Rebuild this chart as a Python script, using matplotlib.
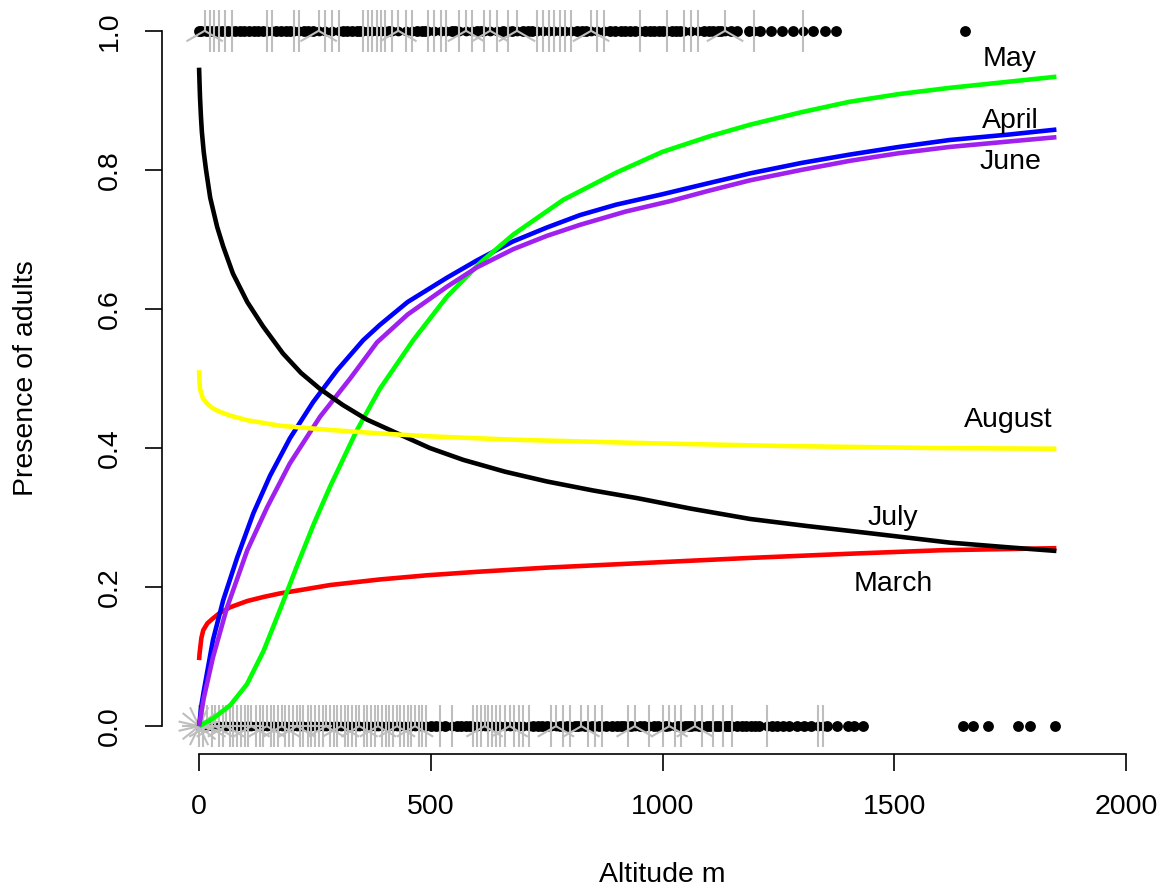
"""
Presence of adults vs altitude, fitted curves per month (R sunflowerplot style)
"""

import numpy as np
import matplotlib
matplotlib.use("Agg")
import matplotlib.pyplot as plt
from matplotlib.collections import LineCollection

plt.rcParams['font.family'] = ['Liberation Sans', 'DejaVu Sans']

# fitted curves: altitude (m) -> predicted presence
march_alt = [0, 1, 2, 5, 9, 18, 30, 45, 67, 104, 140, 175, 230, 283, 390, 492, 600, 750,
             1000, 1189, 1404, 1600, 1850]
march_p = [0.095, 0.104, 0.110, 0.127, 0.138, 0.148, 0.155, 0.163, 0.171, 0.180, 0.186, 0.191,
           0.197, 0.203, 0.211, 0.217, 0.222, 0.228, 0.236, 0.242, 0.248, 0.253, 0.256]

april_alt = [0, 5, 10, 17, 30, 52, 82, 117, 153, 196, 246, 298, 354, 390, 450, 535, 600, 677,
             750, 822, 900, 1000, 1100, 1189, 1300, 1404, 1510, 1620, 1750, 1850]
april_p = [0.0, 0.030, 0.050, 0.076, 0.124, 0.181, 0.242, 0.306, 0.360, 0.414, 0.466, 0.512,
           0.555, 0.577, 0.610, 0.645, 0.670, 0.697, 0.717, 0.735, 0.750, 0.765, 0.781, 0.795,
           0.810, 0.822, 0.833, 0.843, 0.851, 0.858]

may_alt = [0, 30, 67, 103, 139, 175, 211, 247, 283, 340, 390, 462, 534, 606, 678, 786, 900,
           1000, 1100, 1189, 1300, 1404, 1510, 1620, 1750, 1850]
may_p = [0.0, 0.011, 0.030, 0.060, 0.108, 0.168, 0.230, 0.290, 0.345, 0.425, 0.485, 0.555,
         0.617, 0.666, 0.707, 0.757, 0.796, 0.826, 0.848, 0.865, 0.883, 0.898, 0.909, 0.918,
         0.927, 0.934]

june_alt = [0, 10, 30, 60, 104, 147, 196, 261, 326, 384, 450, 535, 600, 678, 750, 822, 920,
            1016, 1100, 1189, 1300, 1404, 1510, 1620, 1750, 1850]
june_p = [0.0, 0.040, 0.099, 0.170, 0.253, 0.315, 0.378, 0.445, 0.500, 0.552, 0.592, 0.632,
          0.660, 0.686, 0.705, 0.721, 0.740, 0.755, 0.770, 0.785, 0.800, 0.813, 0.824, 0.833,
          0.841, 0.847]

july_alt = [0, 1, 2, 4, 6, 10, 15, 24, 39, 52, 73, 104, 138, 181, 220, 261, 310, 362, 448,
            498, 570, 660, 750, 850, 945, 1060, 1189, 1310, 1441, 1620, 1750, 1850]
july_p = [0.947, 0.925, 0.905, 0.877, 0.855, 0.826, 0.800, 0.760, 0.718, 0.690, 0.651, 0.610,
          0.575, 0.536, 0.508, 0.485, 0.462, 0.441, 0.415, 0.400, 0.383, 0.366, 0.352, 0.339,
          0.328, 0.313, 0.298, 0.288, 0.278, 0.264, 0.257, 0.252]

august_alt = [0, 1, 2, 8, 17, 30, 45, 70, 104, 175, 283, 390, 492, 677, 967, 1253, 1584, 1850]
august_p = [0.512, 0.495, 0.485, 0.472, 0.464, 0.457, 0.452, 0.446, 0.440, 0.432, 0.426,
            0.421, 0.417, 0.412, 0.407, 0.403, 0.400, 0.399]

# observed presences (y = 1): single sites and repeated sites with counts
pres_single = [0, 5, 18, 28, 38, 50, 63, 78, 88, 98, 108, 118, 128, 138, 167, 177, 187, 196,
               226, 236, 246, 310, 320, 330, 340, 347, 410, 470, 480, 487, 545, 553, 600, 608,
               655, 676, 698, 710, 718, 815, 826, 836, 886, 898, 910, 920, 930, 940, 962, 972,
               982, 992, 1000, 1021, 1030, 1038, 1090, 1100, 1110, 1120, 1127, 1148, 1160,
               1187, 1211, 1235, 1258, 1282, 1325, 1350, 1374, 1653]
pres_multi = [12, 24, 33, 43, 57, 70, 147, 157, 205, 216, 258, 272, 287, 301, 354, 364, 374,
              383, 392, 401, 417, 430, 446, 459, 494, 507, 522, 533, 561, 576, 589, 615, 628,
              643, 667, 686, 729, 742, 755, 766, 779, 790, 803, 846, 859, 874, 951, 1010, 1047,
              1061, 1077, 1135, 1197, 1303]
pres_count = [3, 2, 2, 2, 2, 2, 2, 2, 2, 2, 3, 2, 2, 2, 2, 2, 2,
              2, 2, 2, 2, 3, 2, 2, 2, 2, 2, 2, 2, 3, 2, 2, 3,
              2, 2, 3, 2, 2, 2, 2, 2, 2, 2, 3, 2, 2, 2, 2, 2,
              2, 2, 3, 2, 2]

# observed absences (y = 0)
abs_single = [500, 511, 531, 556, 566, 577, 584, 721, 731, 741, 750, 778, 793, 811, 818, 833,
              848, 862, 879, 891, 901, 911, 918, 932, 951, 961, 981, 991, 1007, 1033, 1048,
              1055, 1062, 1078, 1096, 1103, 1116, 1121, 1136, 1141, 1145, 1160, 1171, 1181,
              1190, 1200, 1208, 1236, 1247, 1259, 1274, 1290, 1305, 1320, 1356, 1376, 1400,
              1413, 1433, 1648, 1670, 1702, 1767, 1793, 1847]
abs_multi = [0, 9, 18, 27, 34, 43, 51, 58, 67, 74, 81, 90, 99, 106, 113, 122, 131, 138, 146,
             155, 162, 171, 178, 186, 195, 202, 211, 218, 225, 234, 242, 251, 258, 267, 274,
             282, 291, 298, 306, 315, 322, 330, 339, 346, 355, 362, 370, 379, 386, 394, 403,
             410, 418, 427, 434, 442, 451, 458, 466, 475, 482, 490, 520, 545, 592, 600, 609,
             616, 624, 633, 640, 650, 661, 670, 680, 691, 700, 712, 760, 770, 786, 800, 825,
             840, 855, 870, 925, 940, 970, 1000, 1015, 1026, 1040, 1070, 1085, 1110, 1130,
             1150, 1225, 1336, 1346]
abs_count = [14, 4, 3, 2, 3, 2, 2, 3, 2, 2, 2, 4, 2, 2, 3, 2, 2, 2, 3,
             2, 2, 2, 3, 2, 2, 2, 3, 2, 2, 2, 4, 2, 2, 2, 3,
             2, 2, 2, 3, 2, 2, 2, 2, 3, 2, 2, 2, 2, 3, 2, 2,
             2, 2, 3, 2, 2, 2, 2, 3, 2, 2, 2, 2, 2, 2, 2, 2,
             3, 2, 2, 2, 2, 2, 3, 2, 2, 2, 2, 2, 3, 2, 2, 3,
             2, 2, 2, 2, 3, 2, 2, 3, 2, 2, 3, 2, 2, 2,
             2, 2, 2, 2]

labels = [("May", 1750, 0.960), ("April", 1750, 0.870), ("June", 1750, 0.812),
          ("August", 1745, 0.440), ("July", 1497, 0.300), ("March", 1497, 0.204)]


def petals(ax, alts, y, counts, length=21):
    # sunflower petals, fixed length in pixels
    to_data = ax.transData.inverted()
    segs = []
    for a, n in zip(alts, counts):
        cx, cy = ax.transData.transform((a, y))
        for k in range(n):
            ang = np.pi / 2 + 2 * np.pi * k / n
            ex, ey = to_data.transform((cx + length * np.cos(ang), cy + length * np.sin(ang)))
            segs.append([(a, y), (ex, ey)])
    ax.add_collection(LineCollection(segs, colors='#bebebe', linewidths=1.5,
                                     zorder=3, clip_on=False))


if __name__ == "__main__":
    fig = plt.figure(figsize=(11.71, 8.93), dpi=100)
    ax = fig.add_axes([162 / 1171, 139 / 893, 1001 / 1171, 751 / 893])
    ax.set_xlim(-80, 2080)
    ax.set_ylim(-0.04, 1.04)

    for alts, yv in ((pres_single, 1), (abs_single, 0)):
        ax.plot(alts, [yv] * len(alts), 'o', color='black', ms=7.8, mec='none', zorder=2)
    for alts, yv in ((pres_multi, 1), (abs_multi, 0)):
        ax.plot(alts, [yv] * len(alts), 'o', color='black', ms=7.0, mec='none', zorder=2)
    petals(ax, pres_multi, 1, pres_count)
    petals(ax, abs_multi, 0, abs_count)

    curves = [(march_alt, march_p, '#ff0000'), (april_alt, april_p, '#0000ff'),
              (may_alt, may_p, '#00ff00'), (june_alt, june_p, '#a020f0'),
              (july_alt, july_p, '#000000'), (august_alt, august_p, '#ffff00')]
    for a, p, c in curves:
        ax.plot(a, p, color=c, lw=3.3, zorder=4, solid_capstyle='butt', solid_joinstyle='round')

    for txt, x, y in labels:
        ax.text(x, y, txt, fontsize=20.5, ha='center', va='center', zorder=5)

    for s in ('top', 'right'):
        ax.spines[s].set_visible(False)
    ax.spines['left'].set_bounds(0, 1)
    ax.spines['bottom'].set_bounds(0, 2000)
    for s in ('left', 'bottom'):
        ax.spines[s].set_linewidth(1.2)

    ax.set_xticks([0, 500, 1000, 1500, 2000])
    ax.set_yticks([0, 0.2, 0.4, 0.6, 0.8, 1.0])
    ax.set_yticklabels(['0.0', '0.2', '0.4', '0.6', '0.8', '1.0'])
    ax.tick_params(direction='out', length=12.5, width=1.2, labelsize=20.5, pad=16)
    plt.setp(ax.get_yticklabels(), rotation=90, va='center')

    ax.set_xlabel("Altitude m", fontsize=20.5)
    ax.set_ylabel("Presence of adults", fontsize=20.5)
    ax.xaxis.set_label_coords(0.5, -0.1438)
    ax.yaxis.set_label_coords(-0.123, 0.5)

    fig.savefig("out.png", dpi=100)
